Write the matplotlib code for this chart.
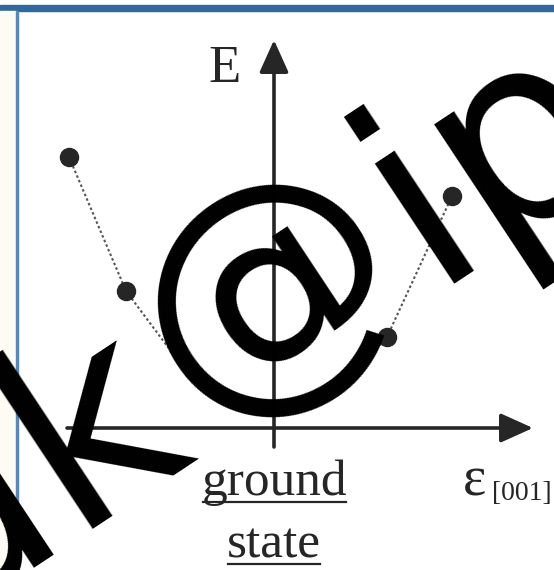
import numpy as np
import matplotlib.pyplot as plt
from matplotlib.patches import Rectangle

W, H, DPI = 554, 570, 100

# energy vs. [001] strain, sketch units
strain = [-2.05, -1.48, -0.80, -0.40, 0.00, 0.35, 0.70, 1.13, 1.78]
energy = [2.71, 1.37, 0.46, 0.22, 0.16, 0.27, 0.43, 0.91, 2.32]
shown = [0, 1, 7, 8]   # points drawn with a dot

ink = '#262626'

fig = plt.figure(figsize=(W / DPI, H / DPI), dpi=DPI)
ax = fig.add_axes([0, 0, 1, 1])
ax.set_xlim(-2.74, 2.80)
ax.set_ylim(-1.42, 4.28)
ax.axis('off')

# page frame: blue rule on top, narrow margin on the left
fig.patches.append(Rectangle((0, 1 - 11 / H), 1, 6 / H, transform=fig.transFigure,
                             color='#336699', zorder=0))
fig.patches.append(Rectangle((0, 0), 16 / W, 1 - 11 / H, transform=fig.transFigure,
                             color='#fdfbf4', zorder=0))
fig.patches.append(Rectangle((16 / W, 0), 2 / W, 1 - 11 / H, transform=fig.transFigure,
                             color='#5a86b8', zorder=0))

# axes with arrow heads
arrow = dict(arrowstyle='-|>,head_length=1.0,head_width=0.45', lw=2.6,
             color=ink, mutation_scale=20, shrinkA=0, shrinkB=0)
ax.annotate('', xy=(2.59, 0), xytext=(-2.07, 0), arrowprops=arrow)
ax.annotate('', xy=(0, 3.88), xytext=(0, -0.19), arrowprops=arrow)

# curve and computed points
ax.plot(strain, energy, ls=(0, (1.2, 1.2)), lw=1.5, color='#555555', zorder=3)
ax.plot([strain[i] for i in shown], [energy[i] for i in shown], 'o',
        ms=13, color=ink, zorder=4)

serif = 'Liberation Serif'
ax.text(-0.49, 3.46, 'E', family=serif, fontsize=38, color=ink, ha='center', va='baseline')
ax.text(0, -0.67, 'ground', family=serif, fontsize=37, color=ink, ha='center', va='baseline')
ax.text(0, -1.30, 'state', family=serif, fontsize=37, color=ink, ha='center', va='baseline')
ax.plot([-0.71, 0.72], [-0.74, -0.74], color=ink, lw=1.6)
ax.plot([-0.46, 0.46], [-1.355, -1.355], color=ink, lw=1.6)
ax.text(1.89, -0.67, 'ε', family=serif, fontsize=40, color=ink, ha='left', va='baseline')
ax.text(2.18, -0.72, '[001]', family=serif, fontsize=20, color=ink, ha='left', va='baseline')


# watermark, laid out piece by piece along a tilted baseline
def stamp(px, py, s, size, ha):
    fig.text(px / W, 1 - py / H, s, fontsize=size, rotation=33.5, rotation_mode='anchor',
             ha=ha, va='baseline', color='black', zorder=10)


stamp(-68, 626, 'dk', 189, 'left')
stamp(308, 350, '@', 189, 'center')
stamp(429, 283, 'ip', 189, 'left')

fig.savefig('out.png', dpi=DPI, facecolor='white')
